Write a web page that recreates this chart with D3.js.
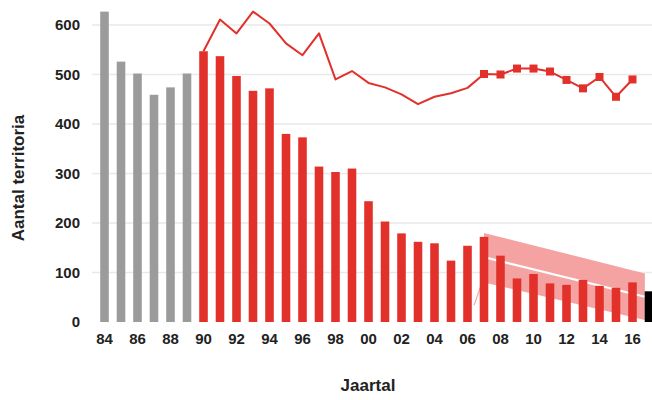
<!DOCTYPE html>
<html><head><meta charset="utf-8">
<script src="https://cdn.jsdelivr.net/npm/d3@7"></script>
<style>
html,body{margin:0;padding:0;background:#fff;overflow:hidden;}
svg{display:block;font-family:"Liberation Sans",Arial,Helvetica,sans-serif;}
</style></head>
<body>
<svg id="chart" width="652" height="400"></svg>
<script>
// ---- data ----
const years = [1984,1985,1986,1987,1988,1989,1990,1991,1992,1993,1994,1995,1996,1997,1998,1999,2000,
  2001,2002,2003,2004,2005,2006,2007,2008,2009,2010,2011,2012,2013,2014,2015,2016,2017];
const grayYears = [1984,1985,1986,1987,1988,1989];
const grayValues = [627,526,502,459,474,502];
const redYears = [1990,1991,1992,1993,1994,1995,1996,1997,1998,1999,2000,2001,2002,2003,2004,2005,2006,
  2007,2008,2009,2010,2011,2012,2013,2014,2015,2016];
const redValues = [547,537,497,467,472,380,373,314,303,310,244,203,179,162,159,124,154,172,134,88,97,78,75,85,73,69,80];
const lineValues = [547,611,583,627,603,563,539,583,490,507,483,474,460,440,455,462,473,501,500,512,512,506,489,472,495,455,490];
const markerFrom = 2007;
const blackYear = [2017];
const blackValue = [62];
const bandYears = [2007, 2016.75];
const bandUpper = [180, 98];
const bandLower = [80, 4];
const bandCenter = [131, 51];
const leadYears = [2006.4, 2006.95];
const leadValues = [34, 86];
const yTicks = [0,100,200,300,400,500,600];
const xTickYears = [1984,1986,1988,1990,1992,1994,1996,1998,2000,2002,2004,2006,2008,2010,2012,2014,2016];
const yTitle = "Aantal territoria";
const xTitle = "Jaartal";

// ---- scales ----
const svg = d3.select("#chart");
const RED = "#e2302a", GRAY = "#9b9b9b", PINK = "#f4a2a2";
const x = d3.scaleBand().domain(years).range([96.25, 657.25]).paddingInner(0.48).paddingOuter(0.24);
const bw = x.bandwidth();
const xl = d3.scaleLinear().domain([1984, 2017]).range([x(1984) + bw/2, x(2017) + bw/2]);
const y = d3.scaleLinear().domain([0, 600]).range([322, 25]);

// gridlines
svg.append("g").selectAll("line").data(yTicks.filter(d => d > 0)).join("line")
  .attr("x1", 92).attr("x2", 652)
  .attr("y1", d => y(d)).attr("y2", d => y(d))
  .attr("stroke", "#e9e9e9").attr("stroke-width", 1.5);

// y axis labels
const yAxis = d3.axisLeft(y).tickValues(yTicks).tickSize(0).tickPadding(0).tickFormat(d3.format("d"));
const ya = svg.append("g").attr("transform", "translate(80,0)").call(yAxis);
ya.select(".domain").remove();
ya.selectAll("text").attr("font-size", 15).attr("font-weight", "bold").attr("fill", "#222")
  .attr("font-family", "Liberation Sans, Arial, sans-serif");

// x axis labels
const xAxis = d3.axisBottom(x).tickValues(xTickYears).tickSize(0).tickPadding(0)
  .tickFormat(d => String(d).slice(2));
const xa = svg.append("g").attr("transform", "translate(0,333)").call(xAxis);
xa.select(".domain").remove();
xa.selectAll("text").attr("font-size", 15).attr("font-weight", "bold").attr("fill", "#222")
  .attr("font-family", "Liberation Sans, Arial, sans-serif");

// trend band
const area = d3.area().x((d,i) => xl(bandYears[i])).y0((d,i) => y(bandLower[i])).y1((d,i) => y(bandUpper[i]));
svg.append("path").datum(bandYears).attr("d", area).attr("fill", PINK);
svg.append("path").datum(leadYears)
  .attr("d", d3.line().x(d => xl(d)).y((d,i) => y(leadValues[i])))
  .attr("stroke", PINK).attr("stroke-width", 1.2).attr("fill", "none");
svg.append("path").datum(bandYears)
  .attr("d", d3.line().x(d => xl(d)).y((d,i) => y(bandCenter[i])))
  .attr("stroke", "#fff").attr("stroke-width", 2.2).attr("fill", "none");

// bars
svg.append("g").selectAll("rect").data(grayYears).join("rect")
  .attr("x", d => x(d)).attr("width", bw)
  .attr("y", (d,i) => y(grayValues[i])).attr("height", (d,i) => y(0) - y(grayValues[i]))
  .attr("fill", GRAY);
svg.append("g").selectAll("rect").data(redYears).join("rect")
  .attr("x", d => x(d)).attr("width", bw)
  .attr("y", (d,i) => y(redValues[i])).attr("height", (d,i) => y(0) - y(redValues[i]))
  .attr("fill", RED);
svg.append("g").selectAll("rect").data(blackYear).join("rect")
  .attr("x", d => x(d)).attr("width", bw)
  .attr("y", (d,i) => y(blackValue[i])).attr("height", (d,i) => y(0) - y(blackValue[i]))
  .attr("fill", "#000");

// line
const lineData = redYears.map((d,i) => ({year: d, v: lineValues[i]}));
svg.append("path").datum(lineData)
  .attr("d", d3.line().x(d => x(d.year) + bw/2).y(d => y(d.v)))
  .attr("fill", "none").attr("stroke", RED).attr("stroke-width", 2).attr("stroke-linejoin", "round");
svg.append("g").selectAll("rect").data(lineData.filter(d => d.year >= markerFrom)).join("rect")
  .attr("x", d => x(d.year) + bw/2 - 4).attr("y", d => y(d.v) - 4)
  .attr("width", 8).attr("height", 8).attr("fill", RED);

// titles
svg.append("text").attr("transform", "translate(24,178) rotate(-90)")
  .attr("text-anchor", "middle").attr("font-size", 17).attr("font-weight", "bold").attr("fill", "#222")
  .text(yTitle);
svg.append("text").attr("x", 368).attr("y", 391)
  .attr("text-anchor", "middle").attr("font-size", 17).attr("font-weight", "bold").attr("fill", "#222")
  .text(xTitle);
</script>
</body></html>
